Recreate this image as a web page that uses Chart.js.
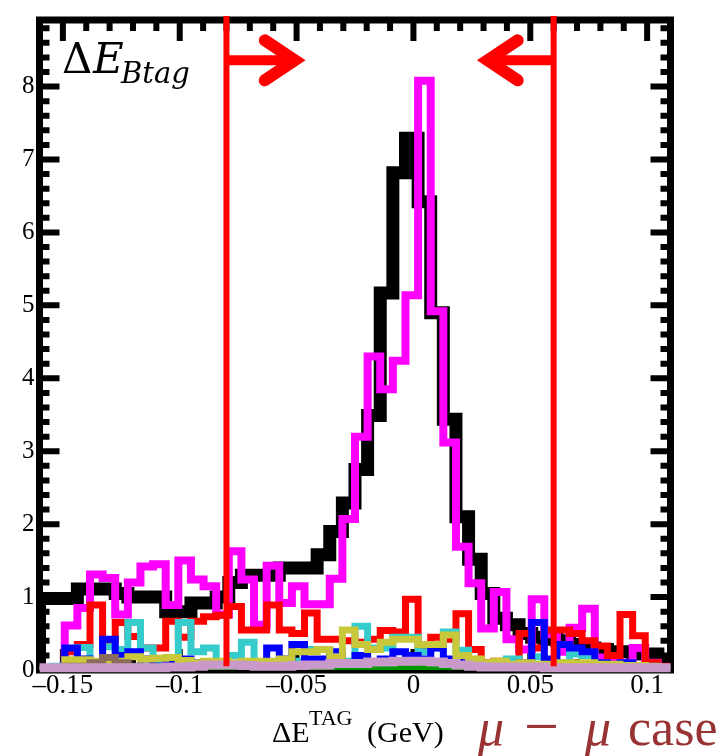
<!DOCTYPE html>
<html><head><meta charset="utf-8">
<script src="https://cdn.jsdelivr.net/npm/chart.js@4.4.1/dist/chart.umd.min.js"></script>
<style>html,body{margin:0;padding:0;background:#fff;}#wrap{position:relative;width:727px;height:756px;}</style>
</head><body><div id="wrap"><canvas id="c" width="727" height="756"></canvas></div>
<script>
// ---- data ----
const xMin = -0.16, xMax = 0.11, binWidth = 0.0054;
const yMin = 0, yMax = 8.913;
const xTicks = [-0.15, -0.1, -0.05, 0, 0.05, 0.1];
const xTickLabels = ['\u20130.15', '\u20130.1', '\u20130.05', '0', '0.05', '0.1'];
const yTicks = [0, 1, 2, 3, 4, 5, 6, 7, 8];
const yTickLabels = ['0', '1', '2', '3', '4', '5', '6', '7', '8'];
const cutLow = -0.08, cutHigh = 0.06;
const arrowY = 8.36, arrowTipRight = -0.0465, arrowTipLeft = 0.0275;

const black = [0.98,0.98,0.98,1.11,1.11,1.11,1.05,1.0,1.0,1.0,0.8,0.8,0.92,0.92,1.0,1.2,1.3,1.3,1.3,1.4,1.4,1.4,1.58,1.9,2.29,2.75,3.49,5.17,6.82,7.29,6.42,4.9,3.44,2.1,1.52,1.05,0.71,0.62,0.5,0.45,0.42,0.4,0.35,0.3,0.28,0.25,0.25,0.22,0.22,0.12];
const magenta = [0,0,0.61,0.85,1.31,1.26,0.76,1.2,1.42,1.45,0.89,1.5,1.24,1.15,0.76,1.63,1.24,0.62,1.43,0.92,1.15,0.9,0.9,1.25,2.07,3.2,4.3,3.85,4.24,5.14,8.08,4.92,3.12,1.69,1.19,0.57,1.07,0.42,0.28,0.97,0.49,0.25,0.58,0.84,0.17,0.1,0.1,0.3,0.1,0];
const red = [0,0,0.25,0.35,0.89,0.4,0.65,0.46,0.3,0.3,0.67,0.45,0.67,0.73,0.75,0.87,0.55,0.55,0.89,0.55,0.5,0.78,0.42,0.42,0.4,0.38,0.42,0.54,0.52,0.97,0.3,0.45,0.42,0.77,0.28,0.1,0.12,0.1,0.5,0.3,0.55,0.55,0.5,0.4,0.33,0.2,0.76,0.47,0.1,0.05];
const cyan = [0,0.05,0.1,0.31,0.1,0.32,0.28,0.65,0.3,0.08,0.1,0.65,0.25,0.3,0.1,0.2,0.38,0.1,0.1,0.12,0.12,0.28,0.28,0.2,0.12,0.6,0.3,0.3,0.45,0.45,0.25,0.3,0.52,0.27,0.1,0.05,0.05,0.15,0.05,0.18,0.05,0.1,0.22,0.2,0.05,0.05,0.04,0.04,0.03,0.02];
const blue = [0,0,0.3,0.15,0.1,0.42,0.2,0.25,0.15,0.05,0.08,0.15,0.1,0.05,0.05,0.05,0.1,0.1,0.3,0.15,0.35,0.15,0.15,0.25,0.1,0.2,0.1,0.15,0.25,0.2,0.15,0.3,0.15,0.1,0.1,0.05,0.05,0.05,0.1,0.65,0.15,0.35,0.3,0.25,0.1,0.05,0.1,0.05,0.05,0];
const olive = [0,0,0.14,0.14,0.12,0.1,0.12,0.18,0.15,0.16,0.17,0.13,0.1,0.12,0.12,0.1,0.12,0.12,0.12,0.15,0.25,0.25,0.28,0.18,0.55,0.35,0.28,0.38,0.42,0.42,0.35,0.35,0.48,0.2,0.15,0.1,0.12,0.08,0.1,0.08,0.08,0.1,0.1,0.1,0.08,0.08,0.06,0.06,0.05,0.03];
const brown = [0,0,0.05,0.05,0.1,0.17,0.1,0.05,0.04,0.04,0.04,0.04,0.03,0.03,0.04,0.04,0.03,0.03,0.04,0.04,0.03,0.03,0.04,0.05,0.04,0.04,0.05,0.05,0.06,0.06,0.05,0.05,0.04,0.04,0.03,0.03,0.03,0.03,0.03,0.03,0.03,0.03,0.03,0.03,0.02,0.02,0.02,0.02,0.02,0.02];
const green = [0,0,0,0,0,0,0,0,0,0,0,0,0.02,0.02,0.01,0,0,0,0,0.01,0,0,0,0.01,0.01,0.01,0.01,0.02,0.02,0.02,0.03,0.03,0.03,0.02,0.01,0.01,0.01,0,0,0.01,0.01,0.01,0,0,0,0,0,0,0,0];
const pink = [0.03,0.03,0.03,0.03,0.03,0.03,0.03,0.03,0.03,0.03,0.04,0.04,0.05,0.07,0.07,0.07,0.06,0.05,0.05,0.05,0.06,0.07,0.07,0.09,0.09,0.09,0.11,0.11,0.12,0.12,0.12,0.11,0.09,0.07,0.05,0.04,0.04,0.04,0.04,0.04,0.03,0.03,0.03,0.03,0.03,0.03,0.03,0.03,0.03,0.03];

// ---- helpers ----
function histPoints(vals) {
  const pts = [{x: xMin, y: 0}];
  vals.forEach((v, i) => pts.push({x: xMin + i * binWidth, y: v}));
  const xEnd = xMin + vals.length * binWidth;
  pts.push({x: xEnd, y: vals[vals.length - 1]});
  pts.push({x: xEnd, y: 0});
  return pts;
}
function ds(label, vals, color, width, clip) {
  return {label, data: histPoints(vals), borderColor: color, borderWidth: width,
    stepped: 'before', pointRadius: 0, fill: false, clip: clip, borderJoinStyle: 'miter', borderCapStyle: 'butt'};
}
const datasets = [
  ds('pink', pink, '#c99ac9', 9, {left: 0, right: 6, top: 0, bottom: 6}),
  ds('green', green, '#009a00', 6, 0),
  ds('brown', brown, '#8c6c5c', 7, 0),
  ds('olive', olive, '#c8c83a', 7, 0),
  ds('blue', blue, '#0000ff', 7, 0),
  ds('cyan', cyan, '#36cccc', 7, 0),
  ds('red', red, '#ff0000', 7, 0),
  ds('magenta', magenta, '#ff00ff', 8, 0),
  ds('black', black, '#000000', 13, 0)
];
const blackIndex = datasets.length - 1;

function drawFrame(chart) {
  const {ctx, chartArea: a, scales: {x, y}} = chart;
  ctx.save();
  ctx.strokeStyle = '#000';
  ctx.lineWidth = 7;
  ctx.strokeRect(a.left, a.top, a.right - a.left, a.bottom - a.top);
  ctx.lineWidth = 6;
  ctx.beginPath();
  for (let k = -16; k <= 11; k++) {
    const v = k / 100;
    const major = (k % 5 === 0);
    const px = x.getPixelForValue(v);
    const len = major ? 21 : 11;
    ctx.moveTo(px, a.top); ctx.lineTo(px, a.top + len);
    ctx.moveTo(px, a.bottom); ctx.lineTo(px, a.bottom - len);
  }
  for (let k = 0; k <= 44; k++) {
    const v = k / 5;
    const major = (k % 5 === 0);
    const py = y.getPixelForValue(v);
    const len = major ? 20 : 10;
    ctx.moveTo(a.left, py); ctx.lineTo(a.left + len, py);
    ctx.moveTo(a.right, py); ctx.lineTo(a.right - len, py);
  }
  ctx.stroke();
  ctx.restore();
}
function arrow(ctx, x0, xTip, yp, dir) {
  ctx.beginPath();
  ctx.moveTo(x0, yp); ctx.lineTo(xTip - dir * 10, yp);
  ctx.lineWidth = 10; ctx.lineCap = 'butt'; ctx.stroke();
  ctx.beginPath();
  ctx.moveTo(xTip - dir * 30, yp - 20);
  ctx.lineTo(xTip, yp);
  ctx.lineTo(xTip - dir * 30, yp + 20);
  ctx.lineWidth = 12; ctx.lineCap = 'round'; ctx.lineJoin = 'miter'; ctx.miterLimit = 10;
  ctx.stroke();
}
function drawDecor(chart) {
  const {ctx, chartArea: a, scales: {x, y}} = chart;
  ctx.save();
  ctx.strokeStyle = '#ff0000';
  ctx.lineWidth = 6;
  [cutLow, cutHigh].forEach(v => {
    const px = x.getPixelForValue(v);
    ctx.beginPath(); ctx.moveTo(px, a.top - 4); ctx.lineTo(px, y.getPixelForValue(0.05)); ctx.stroke();
  });
  const ay = y.getPixelForValue(arrowY);
  arrow(ctx, x.getPixelForValue(cutLow), x.getPixelForValue(arrowTipRight) - 10, ay, 1);
  arrow(ctx, x.getPixelForValue(cutHigh), x.getPixelForValue(arrowTipLeft) + 10, ay, -1);
  // label top-left
  ctx.fillStyle = '#000';
  ctx.textBaseline = 'alphabetic';
  ctx.font = '42px "DejaVu Serif"';
  ctx.fillText('\u0394', 62, 73);
  ctx.font = 'italic 42px "DejaVu Serif"';
  ctx.fillText('E', 93, 73);
  ctx.font = 'italic 29px "DejaVu Serif"';
  ctx.fillText('Btag', 121, 83);
  // x-axis title
  ctx.font = '30px "Liberation Serif"';
  ctx.fillText('\u0394E', 272, 742);
  ctx.font = '22px "Liberation Serif"';
  ctx.fillText('TAG', 309, 725);
  ctx.font = '30px "Liberation Serif"';
  ctx.fillText('(GeV)', 367, 742);
  // mu-mu case
  ctx.fillStyle = '#993333';
  ctx.font = 'italic 52px "Liberation Serif"';
  ctx.fillText('\u03bc', 478, 745);
  ctx.font = '62px "Liberation Serif"';
  ctx.fillText('\u2212', 524, 747);
  ctx.font = 'italic 52px "Liberation Serif"';
  ctx.fillText('\u03bc', 585, 745);
  ctx.font = '52px "Liberation Serif"';
  ctx.fillText('case', 628, 745);
  ctx.restore();
}
const decor = {
  id: 'decor',
  afterDatasetDraw(chart, args) { if (args.index === blackIndex) drawFrame(chart); },
  afterDatasetsDraw(chart) { drawDecor(chart); }
};

new Chart(document.getElementById('c'), {
  type: 'line',
  data: {datasets},
  options: {
    responsive: false, animation: false, devicePixelRatio: 1,
    layout: {padding: {left: 0, right: 56.5, top: 11, bottom: 0}},
    plugins: {legend: {display: false}, tooltip: {enabled: false}},
    scales: {
      x: {
        type: 'linear', min: xMin, max: xMax,
        afterBuildTicks: s => { s.ticks = xTicks.map(v => ({value: v})); },
        afterFit: s => { s.height = 86; },
        ticks: {callback: (v, i) => xTickLabels[i], font: {family: 'Liberation Serif', size: 27}, color: '#000', padding: 0, maxRotation: 0, autoSkip: false},
        grid: {display: false, drawTicks: false}, border: {display: false}
      },
      y: {
        type: 'linear', min: yMin, max: yMax,
        afterBuildTicks: s => { s.ticks = yTicks.map(v => ({value: v})); },
        afterFit: s => { s.width = 39.5; },
        ticks: {callback: (v, i) => yTickLabels[i], font: {family: 'Liberation Serif', size: 25}, color: '#000', padding: 5},
        grid: {display: false, drawTicks: false}, border: {display: false}
      }
    }
  },
  plugins: [decor]
});
</script></body></html>
